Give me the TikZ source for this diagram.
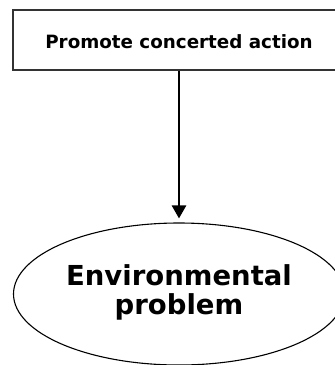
\documentclass[tikz,border=0pt]{standalone}
\usepackage{fontspec}
\setmainfont{DejaVu Sans}
\usetikzlibrary{arrows.meta,shapes.geometric}
\begin{document}
\begin{tikzpicture}[x=1pt,y=-1pt,
  actionbox/.style={draw=black!80, line width=1.3pt, minimum width=332pt,
    minimum height=60pt, inner sep=0pt, text height=16pt, text depth=0pt,
    font=\bfseries\fontsize{18.3}{22}\selectfont},
  problem/.style={ellipse, draw, line width=1.1pt, minimum width=331pt,
    minimum height=142pt, inner sep=0pt,
    font=\bfseries\fontsize{27.5}{27}\selectfont},
  link/.style={line width=2.5pt, -{Triangle[width=14pt,length=13pt]}, shorten >=4pt}]
\useasboundingbox (0,0) rectangle (335,365);
\clip (0,0) rectangle (335,365);
% action box and the problem it acts on
\node[actionbox] (act) at (179,40) {Promote concerted action};
\node[problem] (env) at (179,294)
  {\raisebox{-2.5pt}{\begin{tabular}{@{}c@{}}Environmental\\problem\end{tabular}}};
\draw[link] (act) -- (env);
\end{tikzpicture}
\end{document}
